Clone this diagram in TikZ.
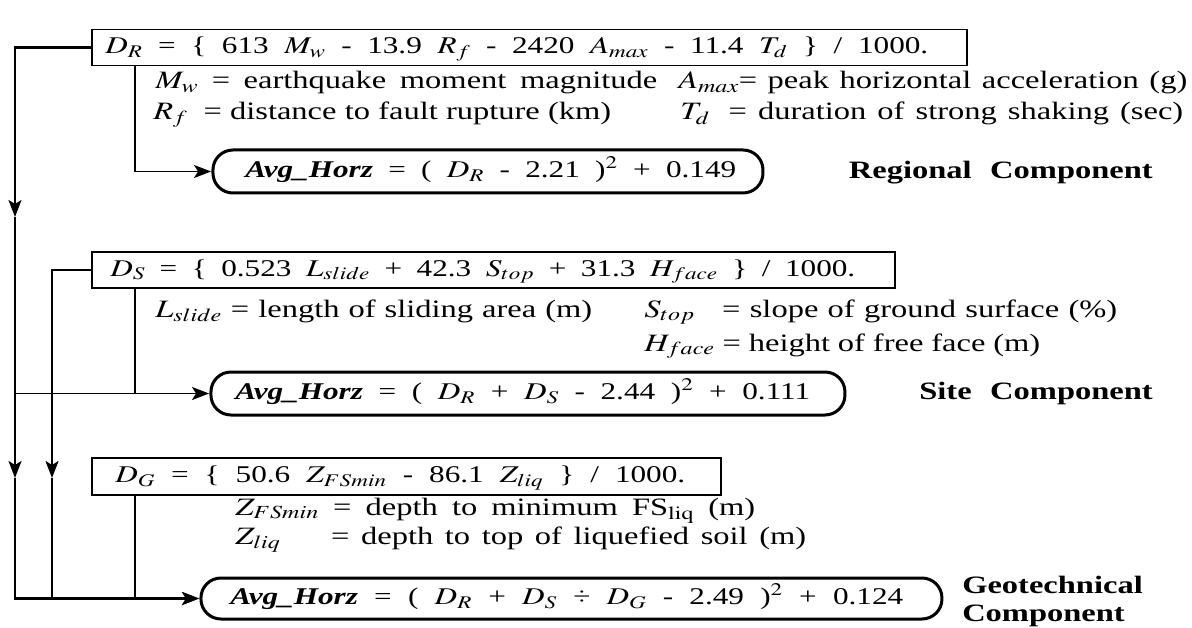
\documentclass[tikz,border=0pt]{standalone}
\usepackage{mathptmx}
\usepackage[no-math]{fontspec}
\setmainfont{Liberation Serif}
\usetikzlibrary{arrows.meta}
% spread a line of text over a given width (in px of the figure)
\newcommand{\spanto}[2]{\makebox[\dimexpr #1pt*10/13\relax][s]{#2}}
\newcommand{\eqspan}[2]{{\spaceskip=0.12em plus 1em minus 0.05em\relax\spanto{#1}{#2}}}

\begin{document}
\begin{tikzpicture}[
    x=0.76923pt, y=-1pt, xscale=1.3,
    every node/.append style={transform shape},
    eqbox/.style={draw, line width=1.5pt, inner sep=0pt, minimum height=36pt, anchor=west},
    avgbox/.style={draw, line width=3pt, rounded corners=20pt, inner sep=0pt, minimum height=43pt, anchor=west},
    txt/.style={inner sep=0pt, anchor=west, text height=16pt, text depth=4pt, font=\fontsize{25}{30}\selectfont},
    eqtxt/.style={txt, font=\fontsize{24}{28}\selectfont},
    comp/.style={txt, text height=, text depth=, font=\fontsize{25}{28}\selectfont\bfseries, align=left},
    link/.style={line width=1.8pt},
    trunk/.style={line width=2.4pt},
    tip/.style={-{Stealth[length=17pt,width=13pt,inset=4pt]}},
  ]
  \useasboundingbox (0,0) rectangle (1192,628);

  % regional component
  \node[eqbox, minimum width=673.1pt] (boxR) at (91,47.5) {};
  \node[eqtxt] (eqR) at (105,47.5) {\eqspan{823}{$D_R$ = \{ 613 $M_w$ - 13.9 $R_f$ - 2420 $A_{max}$ - 11.4 $T_d$ \} / 1000.}};
  \node[txt] (defMw) at (155,83) {\spanto{502}{$M_w$ = earthquake moment magnitude}};
  \node[txt] (defAmax) at (678,83) {\spanto{509}{$A_{max}$= peak horizontal acceleration (g)}};
  \node[txt] (defRf) at (153,114) {\spanto{458}{$R_f$\hspace{6pt} = distance to fault rupture (km)}};
  \node[txt] (defTd) at (680,114) {\spanto{503}{$T_d$\hspace{6pt} = duration of strong shaking (sec)}};
  \node[avgbox, minimum width=423.1pt] (boxHR) at (211,171.5) {};
  \node[eqtxt] (avgR) at (245,171.5) {\eqspan{491}{\textbf{\textit{Avg\_Horz}} = ( $D_R$ - 2.21 )$^2$ + 0.149}};
  \node[comp, anchor=east] (lblR) at (1153,173) {Regional\hspace{8pt} Component};

  % site component
  \node[eqbox, minimum width=617.7pt] (boxS) at (91,270) {};
  \node[eqtxt] (eqS) at (110,270) {\eqspan{745}{$D_S$ = \{ 0.523 $L_{slide}$ + 42.3 $S_{top}$ + 31.3 $H_{face}$ \} / 1000.}};
  \node[txt] (defL) at (155,311) {\spanto{437}{$L_{slide}$ = length of sliding area (m)}};
  \node[txt] (defSt) at (644,311) {\spanto{473}{$S_{top}$\hspace{14pt} = slope of ground surface (\%)}};
  \node[txt] (defH) at (644,345) {\spanto{396}{$H_{face}$ = height of free face (m)}};
  \node[avgbox, minimum width=487.7pt] (boxHS) at (209,393.5) {};
  \node[eqtxt] (avgS) at (235,393.5) {\eqspan{575}{\textbf{\textit{Avg\_Horz}} = ( $D_R$ + $D_S$ - 2.44 )$^2$ + 0.111}};
  \node[comp, anchor=east] (lblS) at (1153,393) {Site\hspace{8pt} Component};

  % geotechnical component
  \node[eqbox, minimum width=483.8pt, minimum height=37pt] (boxG) at (91,476.5) {};
  \node[eqtxt] (eqG) at (115,476.5) {\eqspan{570}{$D_G$ = \{ 50.6 $Z_{FSmin}$ - 86.1 $Z_{liq}$ \} / 1000.}};
  \node[txt] (defZfs) at (235,509) {\spanto{520}{$Z_{FSmin}$ = depth to minimum FS$_{\mathrm{liq}}$ (m)}};
  \node[txt] (defZl) at (235,538) {\spanto{571}{$Z_{liq}$\hspace{30pt} = depth to top of liquefied soil (m)}};
  \node[avgbox, minimum width=570pt, minimum height=41pt] (boxHG) at (199,598.5) {};
  \node[eqtxt] (avgG) at (230,598.5) {\eqspan{673}{\textbf{\textit{Avg\_Horz}} = ( $D_R$ + $D_S$ ÷ $D_G$ - 2.49 )$^2$ + 0.124}};
  \node[comp] (lblG) at (962,601) {Geotechnical\\Component};

  % connectors
  \coordinate (tipR1) at (15,217);
  \coordinate (tipR2) at (15,478);
  \coordinate (brS) at (15,393.5);
  \coordinate (tipS) at (52,478);
  \coordinate (tapR) at (135,65);
  \coordinate (tapS) at (135,288);
  \coordinate (tapG) at (135,495);

  \draw[trunk, tip] (boxR.west) -| (tipR1);
  \draw[trunk, tip] (tipR1) -- (tipR2);
  \draw[trunk, tip] (tipR2) |- (boxHG.west);
  \draw[link, tip] (brS) -- (boxHS.west);
  \draw[trunk, tip] (boxS.west) -| (tipS);
  \draw[trunk, tip] (tipS) |- (boxHG.west);
  \draw[link, tip] (tapR) |- (boxHR.west);
  \draw[link] (tapS) -- (tapS |- boxHS.west);
  \draw[link] (tapG) -- (tapG |- boxHG.west);
\end{tikzpicture}
\end{document}
